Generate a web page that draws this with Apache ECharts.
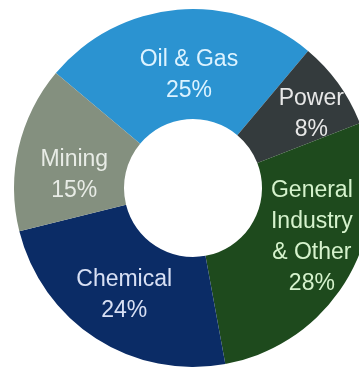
<!DOCTYPE html>
<html>
<head>
<meta charset="utf-8">
<script src="https://cdn.jsdelivr.net/npm/echarts@6/dist/echarts.min.js"></script>
<style>
  html, body { margin: 0; padding: 0; background: #ffffff; }
  #chart { width: 359px; height: 372px; }
</style>
</head>
<body>
<div id="chart"></div>
<script>
// Revenue share by end market
const categories = ['Oil & Gas', 'Power', 'General\nIndustry\n& Other', 'Chemical', 'Mining'];
const shares = [25, 8, 28, 24, 15];

// Slice fills and label text colours, in category order
const sliceColors = ['#2b93d1', '#343b3d', '#1e4a1d', '#0b2c66', '#84907f'];
const textColors = ['#ddf3ff', '#e8e8e8', '#d6f3cd', '#d8e0f4', '#e8ece6'];
// Small nudges of each label away from the ring's mid-radius
const labelNudge = [[7, 14], [15, 0], [8, -13], [0, 0], [5, 16]];

const chart = echarts.init(document.getElementById('chart'), null, { renderer: 'canvas' });

chart.setOption({
  animation: false,
  series: [{
    type: 'pie',
    center: [193, 188],
    radius: [69, 179],
    startAngle: 140,
    clockwise: true,
    avoidLabelOverlap: false,
    label: {
      show: true,
      position: 'inside',
      formatter: p => p.name + '\n' + p.value + '%',
      fontFamily: '"Liberation Sans", Arial, sans-serif',
      fontSize: 23,
      lineHeight: 31
    },
    labelLine: { show: false },
    emphasis: { disabled: true },
    data: categories.map((name, i) => ({
      name: name,
      value: shares[i],
      itemStyle: { color: sliceColors[i], borderWidth: 0 },
      label: { color: textColors[i], offset: labelNudge[i] }
    }))
  }]
});
</script>
</body>
</html>
